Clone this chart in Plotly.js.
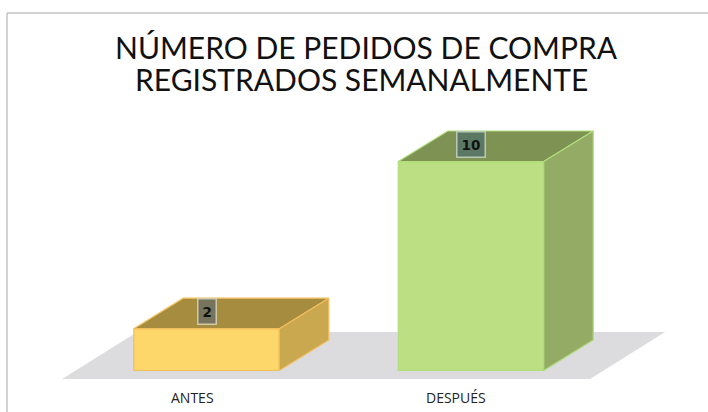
<!DOCTYPE html>
<html>
<head>
<meta charset="utf-8">
<script src="https://cdn.plot.ly/plotly-3.0.1.min.js"></script>
<style>html,body{margin:0;padding:0;background:#fff;}#chart{width:708px;height:412px;}</style>
</head>
<body>
<div id="chart"></div>
<script>
// ---- data ----
const categories = ["ANTES", "DESPUÉS"];
const values = [2, 10];
const titleLines = ["NÚMERO DE PEDIDOS DE COMPRA", "REGISTRADOS SEMANALMENTE"];

// ---- style ----
const frontColors = ["#fdd769", "#bcdf84"];
const topColors = ["#a58c3f", "#7e9353"];
const sideColors = ["#c9a84f", "#94ab66"];
const edgeColors = ["#f3bd5c", "#aedd7a"];
const labelBg = ["rgba(110,112,100,0.85)", "rgba(85,115,105,0.85)"];
const labelBorder = ["#cfc9aa", "#b9c9b3"];

const barW = 0.55;      // front face width (category units)
const depthX = 0.187;   // 3D depth offset in x units
const depthY = 1.46;    // 3D depth offset in y units
const xs = categories.map((c, i) => i);

const traces = [];

// front faces via bar trace
traces.push({
  type: "bar", x: xs, y: values, width: barW,
  marker: {color: frontColors, line: {color: edgeColors, width: 1.2}},
  hoverinfo: "skip", showlegend: false
});

// top and side faces
values.forEach((v, i) => {
  const l = xs[i] - barW / 2, r = xs[i] + barW / 2;
  traces.push({
    type: "scatter", mode: "lines", fill: "toself",
    x: [l, r, r + depthX, l + depthX, l],
    y: [v, v, v + depthY, v + depthY, v],
    fillcolor: topColors[i], line: {color: edgeColors[i], width: 1.2},
    hoverinfo: "skip", showlegend: false
  });
  traces.push({
    type: "scatter", mode: "lines", fill: "toself",
    x: [r, r + depthX, r + depthX, r, r],
    y: [0, depthY, v + depthY, v, 0],
    fillcolor: sideColors[i], line: {color: edgeColors[i], width: 1.2},
    hoverinfo: "skip", showlegend: false
  });
});

// floor (drawn as a shape below the traces)
const n = categories.length;
const fl = -0.546, fr = (n - 1) + 0.45, fb = -0.41, fdx = 0.284, fdy = 2.25;
const floorPath = "M " + fl + "," + fb + " L " + fr + "," + fb + " L " + (fr + fdx) + "," + (fb + fdy) +
  " L " + (fl + fdx) + "," + (fb + fdy) + " Z";

const annotations = [];
// second title line
annotations.push({
  xref: "paper", yref: "paper", x: 361.5 / 708, y: 1 - 79 / 412,
  xanchor: "center", yanchor: "middle", showarrow: false,
  text: titleLines[1], font: {family: "Lato", size: 30, color: "#111"}
});
values.forEach((v, i) => {
  annotations.push({
    x: xs[i], y: v + 0.8, xref: "x", yref: "y",
    text: "<b>" + v + "</b>", showarrow: false,
    font: {family: "DejaVu Sans", size: 13.5, color: "#111"},
    bgcolor: labelBg[i], bordercolor: labelBorder[i], borderwidth: 1.5, borderpad: 4
  });
  annotations.push({
    x: xs[i] - 0.055, y: -1.27, xref: "x", yref: "y",
    text: categories[i], showarrow: false,
    font: {family: "Open Sans", size: 14, color: "#222"}
  });
});

const layout = {
  width: 708, height: 412,
  margin: {l: 0, r: 0, t: 0, b: 0},
  paper_bgcolor: "#fff", plot_bgcolor: "rgba(0,0,0,0)",
  title: {
    text: titleLines[0],
    font: {family: "Lato", size: 30, color: "#111"},
    x: 366 / 708, xanchor: "center", y: 1 - 48 / 412, yanchor: "middle", yref: "paper"
  },
  xaxis: {range: [-0.781, 1.896], visible: false, fixedrange: true},
  yaxis: {range: [-1.986, 17.73], visible: false, fixedrange: true},
  annotations: annotations,
  shapes: [{
    type: "rect", xref: "paper", yref: "paper",
    x0: 7 / 708, x1: 1.02, y0: -0.02, y1: 1 - 13 / 412,
    line: {color: "#a6a6a6", width: 1}, layer: "below"
  }, {
    type: "path", xref: "x", yref: "y", path: floorPath,
    fillcolor: "#dcdbdd", line: {width: 0}, layer: "below"
  }],
  showlegend: false
};

Plotly.newPlot("chart", traces, layout, {displayModeBar: false, staticPlot: true});
</script>
</body>
</html>
